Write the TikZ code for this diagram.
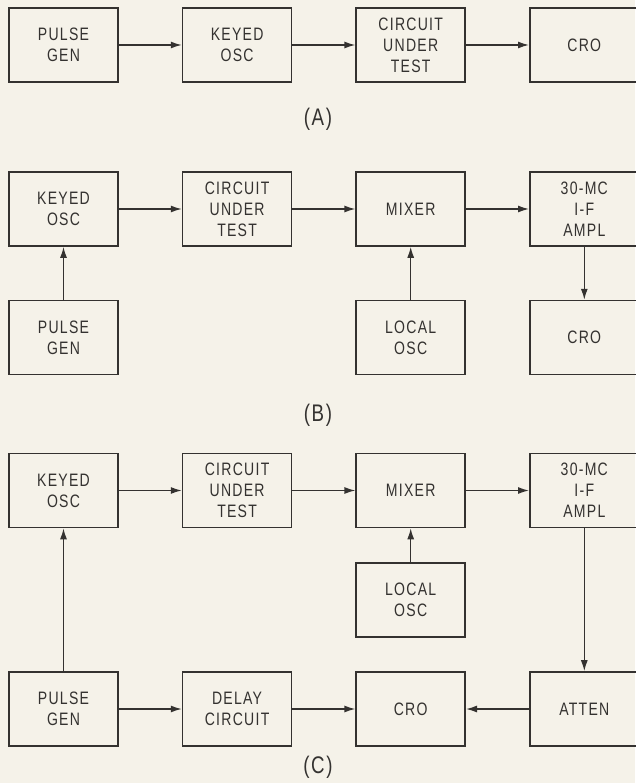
\documentclass[tikz,border=0pt]{standalone}
\usepackage{fontspec}
\setmainfont{Liberation Sans}[FakeStretch=0.78,LetterSpace=7]
\usepackage{tikz}
\usetikzlibrary{arrows.meta,positioning}
\definecolor{pagecream}{RGB}{245,242,233}
\definecolor{inkgray}{RGB}{52,50,48}
\tikzset{
  block/.style={draw=inkgray, line width=1.6pt, minimum width=109pt, minimum height=74pt,
    align=center, inner sep=2pt, text=inkgray, font=\fontsize{18}{21}\selectfont},
  flow/.style={-{Latex[length=11pt,width=7pt]}, line width=1.4pt, draw=inkgray},
  tag/.style={text=inkgray, font=\fontsize{24}{26}\selectfont}
}
\begin{document}
\begin{tikzpicture}[x=1pt,y=-1pt,node distance=63pt]
      \fill[pagecream] (0,0) rectangle (635,783);
      \useasboundingbox (0,0) rectangle (635,783);
      % (A)
      \node[block] (pulseA) at (63.5,45) {PULSE\\GEN};
      \node[block, right=of pulseA] (keyedA) {KEYED\\OSC};
      \node[block, right=of keyedA] (testA) {CIRCUIT\\UNDER\\TEST};
      \node[block, right=of testA] (croA) {CRO};
      \node[tag] (labA) at (318,119) {(A)};
      \draw[flow] (pulseA) -- (keyedA);
      \draw[flow] (keyedA) -- (testA);
      \draw[flow] (testA) -- (croA);
      % (B)
      \node[block] (keyedB) at (63.5,209) {KEYED\\OSC};
      \node[block, right=of keyedB] (testB) {CIRCUIT\\UNDER\\TEST};
      \node[block, right=of testB] (mixB) {MIXER};
      \node[block, right=of mixB] (ifB) {30-MC\\I-F\\AMPL};
      \node[block, below=53pt of keyedB] (pulseB) {PULSE\\GEN};
      \node[block, below=53pt of mixB] (localB) {LOCAL\\OSC};
      \node[block, below=53pt of ifB] (croB) {CRO};
      \node[tag] (labB) at (318,415) {(B)};
      \draw[flow] (keyedB) -- (testB);
      \draw[flow] (testB) -- (mixB);
      \draw[flow] (mixB) -- (ifB);
      \draw[flow] (pulseB) -- (keyedB);
      \draw[flow] (localB) -- (mixB);
      \draw[flow] (ifB) -- (croB);
      % (C)
      \node[block] (keyedC) at (63.5,490.5) {KEYED\\OSC};
      \node[block, right=of keyedC] (testC) {CIRCUIT\\UNDER\\TEST};
      \node[block, right=of testC] (mixC) {MIXER};
      \node[block, right=of mixC] (ifC) {30-MC\\I-F\\AMPL};
      \node[block, below=34pt of mixC] (localC) {LOCAL\\OSC};
      \node[block] (pulseC) at (63.5,709) {PULSE\\GEN};
      \node[block, right=of pulseC] (delayC) {DELAY\\CIRCUIT};
      \node[block, right=of delayC] (croC) {CRO};
      \node[block, right=of croC] (attenC) {ATTEN};
      \node[tag] (labC) at (318,767) {(C)};
      \draw[flow] (keyedC) -- (testC);
      \draw[flow] (testC) -- (mixC);
      \draw[flow] (mixC) -- (ifC);
      \draw[flow] (localC) -- (mixC);
      \draw[flow] (pulseC) -- (keyedC);
      \draw[flow] (pulseC) -- (delayC);
      \draw[flow] (delayC) -- (croC);
      \draw[flow] (attenC) -- (croC);
      \draw[flow] (ifC) -- (attenC);
    \end{tikzpicture}
\end{document}
